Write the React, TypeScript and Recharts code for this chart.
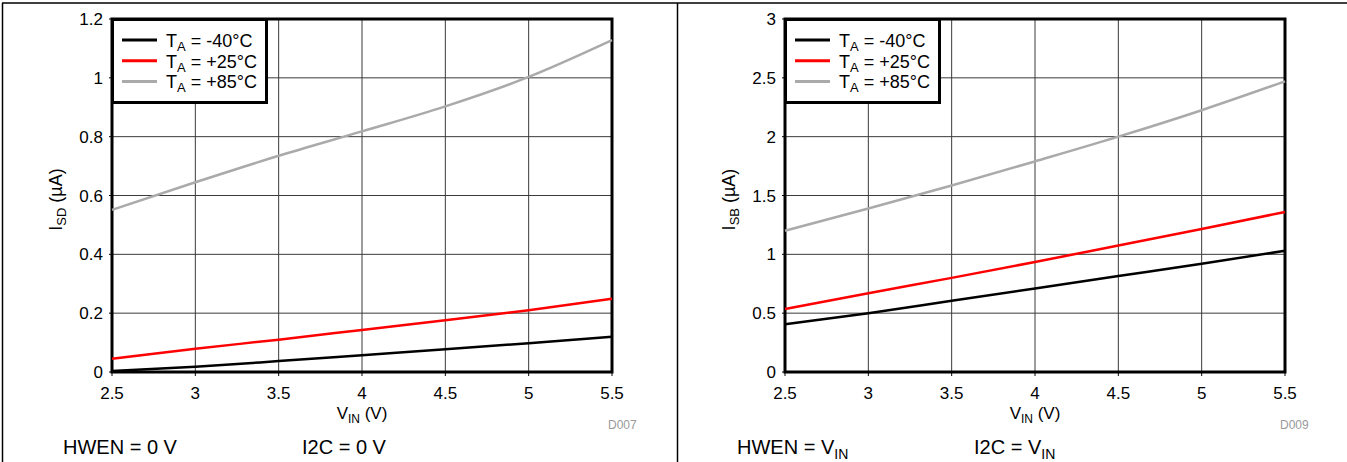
import React from 'react';
import { LineChart, Line, XAxis, YAxis, CartesianGrid, Legend, ReferenceArea, Label } from 'recharts';

// Input voltage (V)
const vin = [2.5, 3, 3.5, 4, 4.5, 5, 5.5];
const xTicks = [2.5, 3, 3.5, 4, 4.5, 5, 5.5];

// Left panel: shutdown current ISD (uA)
const isdM40 = [0.003, 0.018, 0.037, 0.057, 0.077, 0.098, 0.12];
const isd25 = [0.045, 0.079, 0.11, 0.143, 0.176, 0.21, 0.249];
const isd85 = [0.551, 0.645, 0.735, 0.818, 0.903, 1.003, 1.128];
const sdTicks = [0, 0.2, 0.4, 0.6, 0.8, 1, 1.2];

// Right panel: standby current ISB (uA)
const isbM40 = [0.405, 0.5, 0.605, 0.71, 0.815, 0.92, 1.03];
const isb25 = [0.535, 0.67, 0.8, 0.935, 1.075, 1.215, 1.36];
const isb85 = [1.2, 1.39, 1.585, 1.79, 2.0, 2.225, 2.47];
const sbTicks = [0, 0.5, 1, 1.5, 2, 2.5, 3];

const seriesKeys = ['t1', 't2', 't3'];
const seriesNames = ['-40°C', '+25°C', '+85°C'];
const seriesColors = ['#000000', '#ff0000', '#aaaaaa'];

const FONT = '"Liberation Sans", Arial, Helvetica, sans-serif';

function build(a: number[], b: number[], c: number[]) {
  return vin.map((v, i) => ({ vin: v, t1: a[i], t2: b[i], t3: c[i] }));
}

const LegendBox = (props: any) => {
  const payload = [...(props.payload || [])].sort(
    (a: any, b: any) => seriesKeys.indexOf(String(a.dataKey)) - seriesKeys.indexOf(String(b.dataKey))
  );
  return (
    <svg width={157} height={87} style={{ display: 'block', overflow: 'visible' }}>
      <rect x={1.5} y={1.5} width={154} height={83} fill="#fff" stroke="#000" strokeWidth={3} />
      {payload.map((p: any, i: number) => {
        const y = 22 + i * 20.7;
        return (
          <g key={i}>
            <line x1={11} x2={46} y1={y} y2={y} stroke={p.color} strokeWidth={3} />
            <text x={55} y={y + 7} fontSize={18} fill="#000" fontFamily={FONT}>
              T<tspan fontSize={13} dy={4}>A</tspan>
              <tspan dy={-4}>{' = ' + p.value}</tspan>
            </text>
          </g>
        );
      })}
    </svg>
  );
};

function Panel(props: {
  data: any[];
  yMax: number;
  yTicks: number[];
  sub: string;
}) {
  const { data, yMax, yTicks, sub } = props;
  const tick = { fontSize: 17, fill: '#000', fontFamily: FONT };
  return (
    <LineChart
      width={676}
      height={462}
      data={data}
      margin={{ top: 19, left: 52, right: 64, bottom: 60 }}
    >
      <CartesianGrid stroke="#3a3a3a" strokeWidth={1} />
      <XAxis
        type="number"
        dataKey="vin"
        domain={[2.5, 5.5]}
        ticks={xTicks}
        interval={0}
        height={30}
        axisLine={false}
        tickLine={{ stroke: '#000' }}
        tickSize={4}
        tickMargin={11}
        tick={tick}
      >
        <Label
          content={(p: any) => {
            const vb = p.viewBox || {};
            const cx = vb.x + vb.width / 2;
            return (
              <text x={cx} y={419} textAnchor="middle" fontSize={17} fill="#000" fontFamily={FONT}>
                V<tspan fontSize={12} dy={4}>IN</tspan>
                <tspan dy={-4}> (V)</tspan>
              </text>
            );
          }}
        />
      </XAxis>
      <YAxis
        type="number"
        domain={[0, yMax]}
        ticks={yTicks}
        interval={0}
        width={60}
        axisLine={false}
        tickLine={{ stroke: '#000' }}
        tickSize={3}
        tickMargin={6}
        tick={tick}
      >
        <Label
          content={(p: any) => {
            const vb = p.viewBox || {};
            const cy = vb.y + vb.height / 2 + 4;
            const x = 62;
            return (
              <text
                x={x}
                y={cy}
                transform={`rotate(-90, ${x}, ${cy})`}
                textAnchor="middle"
                fontSize={18}
                fill="#000"
                fontFamily={FONT}
              >
                I<tspan fontSize={13} dy={4}>{sub}</tspan>
                <tspan dy={-4}> (µA)</tspan>
              </text>
            );
          }}
        />
      </YAxis>
      <Line type="monotone" dataKey="t1" name={seriesNames[0]} stroke={seriesColors[0]} strokeWidth={2.5} dot={false} isAnimationActive={false} />
      <Line type="monotone" dataKey="t2" name={seriesNames[1]} stroke={seriesColors[1]} strokeWidth={2.5} dot={false} isAnimationActive={false} />
      <Line type="monotone" dataKey="t3" name={seriesNames[2]} stroke={seriesColors[2]} strokeWidth={2.5} dot={false} isAnimationActive={false} />
      <ReferenceArea
        x1={2.5}
        x2={5.5}
        y1={0}
        y2={yMax}
        fill="none"
        fillOpacity={0}
        stroke="#000"
        strokeWidth={3}
        ifOverflow="visible"
      />
      <Legend
        layout="vertical"
        align="center"
        verticalAlign="middle"
        content={LegendBox}
        wrapperStyle={{ left: 111, top: 18, width: 157, height: 87 }}
      />
    </LineChart>
  );
}

export default function App() {
  const left = build(isdM40, isd25, isd85);
  const right = build(isbM40, isb25, isb85);
  return (
    <div
      style={{
        position: 'absolute',
        left: 0,
        top: 0,
        width: 1347,
        height: 462,
        background: '#fff',
        overflow: 'hidden',
        fontFamily: FONT,
      }}
    >
      <div style={{ position: 'absolute', left: 0, top: 0 }}>
        <Panel data={left} yMax={1.2} yTicks={sdTicks} sub="SD" />
      </div>
      <div style={{ position: 'absolute', left: 673, top: 0 }}>
        <Panel data={right} yMax={3} yTicks={sbTicks} sub="SB" />
      </div>
      <svg
        width={1347}
        height={462}
        style={{ position: 'absolute', left: 0, top: 0, pointerEvents: 'none' }}
      >
        <line x1={2} x2={1347} y1={3} y2={3} stroke="#000" strokeWidth={1.5} />
        <line x1={2.5} x2={2.5} y1={3} y2={462} stroke="#000" strokeWidth={1.5} />
        <line x1={677.5} x2={677.5} y1={3} y2={462} stroke="#000" strokeWidth={1.5} />
        <text x={608} y={429} fontSize={12} fill="#999" fontFamily={FONT}>D007</text>
        <text x={1280} y={429} fontSize={12} fill="#999" fontFamily={FONT}>D009</text>
        <text x={63} y={454} fontSize={20} fill="#000" fontFamily={FONT}>HWEN = 0 V</text>
        <text x={302} y={454} fontSize={20} fill="#000" fontFamily={FONT}>I2C = 0 V</text>
        <text x={737} y={454} fontSize={20} fill="#000" fontFamily={FONT}>
          HWEN = V<tspan fontSize={14} dy={5}>IN</tspan>
        </text>
        <text x={974} y={454} fontSize={20} fill="#000" fontFamily={FONT}>
          I2C = V<tspan fontSize={14} dy={5}>IN</tspan>
        </text>
      </svg>
    </div>
  );
}
